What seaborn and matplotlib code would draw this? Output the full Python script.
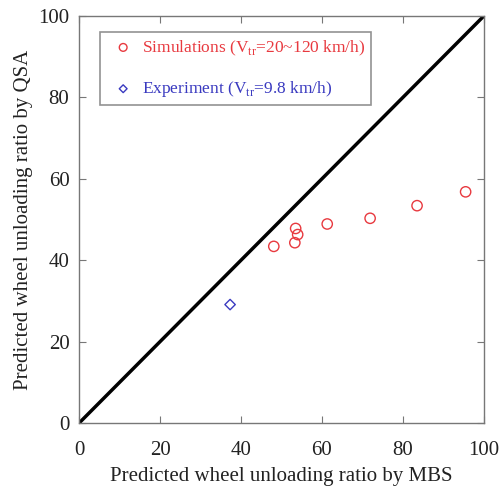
import numpy as np
import matplotlib
matplotlib.use("Agg")
import matplotlib.pyplot as plt
import seaborn as sns

# data
sim_mbs = [48.1, 53.3, 53.5, 54.0, 61.3, 71.9, 83.5, 95.5]
sim_qsa = [43.4, 44.3, 47.8, 46.3, 48.9, 50.3, 53.4, 56.8]
exp_mbs = [37.3]
exp_qsa = [29.1]
ticks = [0, 20, 40, 60, 80, 100]

sns.set_theme(style="white")
plt.rcParams["font.family"] = ["Liberation Serif", "DejaVu Serif"]
plt.rcParams["mathtext.fontset"] = "custom"
plt.rcParams["mathtext.rm"] = "Liberation Serif"

fig = plt.figure(figsize=(5.04, 4.94), dpi=100)
ax = fig.add_axes([0.157, 0.1437, 0.803, 0.8239])

diag = np.array([ticks[0], ticks[-1]])
ax.plot(diag, diag, color="black", lw=2.5, zorder=1)

sns.scatterplot(x=sim_mbs, y=sim_qsa, ax=ax, marker="o", s=55,
                facecolors="none", edgecolor="#e8393f", linewidth=1.0,
                label=r"Simulations (V$_{\rm tr}$=20~120 km/h)", zorder=3)
sns.scatterplot(x=exp_mbs, y=exp_qsa, ax=ax, marker="D", s=28,
                facecolors="none", edgecolor="#3a3ac0", linewidth=1.0,
                label=r"Experiment (V$_{\rm tr}$=9.8 km/h)", zorder=3)

ax.set_xlim(0, 100)
ax.set_ylim(0, 100)
ax.set_xticks(ticks)
ax.set_yticks(ticks)
ax.tick_params(direction="in", length=5, width=0.8, color="#777777",
               top=True, right=True, bottom=True, left=True,
               labelsize=15, pad=7, labelcolor="#222222")
ax.tick_params(axis="x", pad=13)
for sp in ax.spines.values():
    sp.set_color("#777777")
    sp.set_linewidth(1.0)

ax.set_xlabel("Predicted wheel unloading ratio by MBS", fontsize=15, labelpad=5,
              color="#222222")
ax.set_ylabel("Predicted wheel unloading ratio by QSA", fontsize=15, labelpad=4,
              color="#222222")

leg = ax.legend(loc="upper left", bbox_to_anchor=(0.052, 0.96), fontsize=12.5,
                labelcolor=["#e8393f", "#3a3ac0"], frameon=True, fancybox=False,
                edgecolor="#777777", borderpad=0.35, borderaxespad=0,
                handletextpad=0.1, handlelength=1.95, labelspacing=1.25,
                markerscale=0.75)
leg.get_frame().set_linewidth(1.2)

fig.savefig("out.png", dpi=100)
